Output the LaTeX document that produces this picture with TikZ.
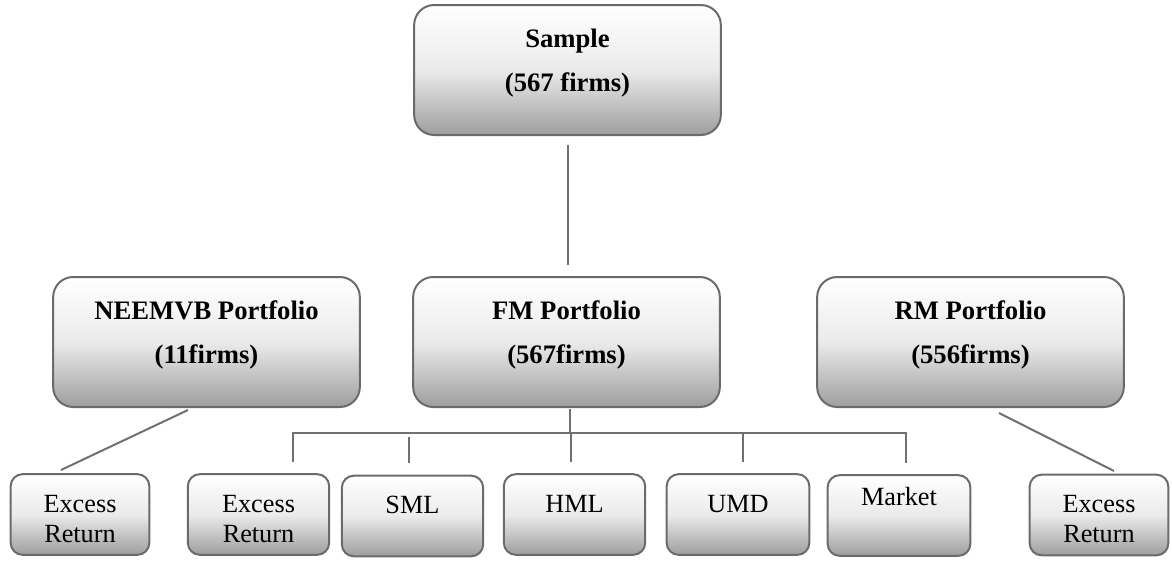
\documentclass[tikz,border=0pt]{standalone}
\usepackage{fontspec}
\setmainfont{Liberation Serif}
\begin{document}
\begin{tikzpicture}[x=0.75pt,y=-0.75pt,
  boxbase/.style={draw=black!58,line width=1.5pt,top color=white,bottom color=black!38,middle color=black!8,inner sep=0pt},
  bigbox/.style={boxbase,rounded corners=15pt,minimum width=230pt,minimum height=97.5pt},
  smallbox/.style={boxbase,rounded corners=9pt,minimum height=60.5pt},
  bigtext/.style={anchor=base,align=center,font=\fontsize{20}{33}\selectfont\bfseries,inner sep=0pt},
  smalltext/.style={anchor=base,align=center,font=\fontsize{19.7}{22.5}\selectfont,inner sep=0pt},
  link/.style={draw=black!56,line width=1.5pt}]
\useasboundingbox (0,0) rectangle (1172,561);
% big boxes
\node[bigbox] (sample) at (567.5,70) {};
\node[bigbox] (neemvb) at (206.5,342) {};
\node[bigbox] (fm) at (566.5,342) {};
\node[bigbox] (rm) at (970.5,342) {};
\node[bigtext] (sampletext) at (567.5,91) {Sample\\(567 firms)};
\node[bigtext] (neemvbtext) at (206.5,363) {NEEMVB Portfolio\\(11firms)};
\node[bigtext] (fmtext) at (566.5,363) {FM Portfolio\\(567firms)};
\node[bigtext] (rmtext) at (970.5,363) {RM Portfolio\\(556firms)};
% small boxes
\node[smallbox,minimum width=104pt] (exa) at (80,514.5) {};
\node[smallbox,minimum width=106pt] (exb) at (258.5,514.5) {};
\node[smallbox,minimum width=106pt] (sml) at (412.5,516) {};
\node[smallbox,minimum width=106pt] (hml) at (574.5,514.5) {};
\node[smallbox,minimum width=107pt] (umd) at (738,514.5) {};
\node[smallbox,minimum width=107pt] (mkt) at (899,515.5) {};
\node[smallbox,minimum width=104pt] (exc) at (1099,515) {};
\node[smalltext] (exatext) at (80,542) {Excess\\Return};
\node[smalltext] (exbtext) at (258.5,542) {Excess\\Return};
\node[smalltext] (smltext) at (412.5,513) {SML};
\node[smalltext] (hmltext) at (574.5,512) {HML};
\node[smalltext] (umdtext) at (738,512) {UMD};
\node[smalltext] (mkttext) at (899,505) {Market};
\node[smalltext] (exctext) at (1099,542) {Excess\\Return};
% connector end points
\coordinate (s1) at (568,145);
\coordinate (s2) at (568,265);
\coordinate (n1) at (188,410);
\coordinate (n2) at (61,470);
\coordinate (r1) at (999,413);
\coordinate (r2) at (1114,471);
\coordinate (f1) at (570,409);
\coordinate (f2) at (570,433);
\coordinate (hl) at (293,433);
\coordinate (hr) at (906,433);
\coordinate (d1) at (293,462);
\coordinate (d2t) at (409,437);
\coordinate (d2) at (409,463);
\coordinate (d3t) at (571,433);
\coordinate (d3) at (571,462);
\coordinate (d4t) at (743,433);
\coordinate (d4) at (743,462);
\coordinate (d5) at (906,463);
% connectors
\draw[link] (s1) -- (s2);
\draw[link] (n1) -- (n2);
\draw[link] (r1) -- (r2);
\draw[link] (f1) -- (f2);
\draw[link] (d1) -- (hl) -- (hr) -- (d5);
\draw[link] (d2t) -- (d2);
\draw[link] (d3t) -- (d3);
\draw[link] (d4t) -- (d4);
\end{tikzpicture}
\end{document}
